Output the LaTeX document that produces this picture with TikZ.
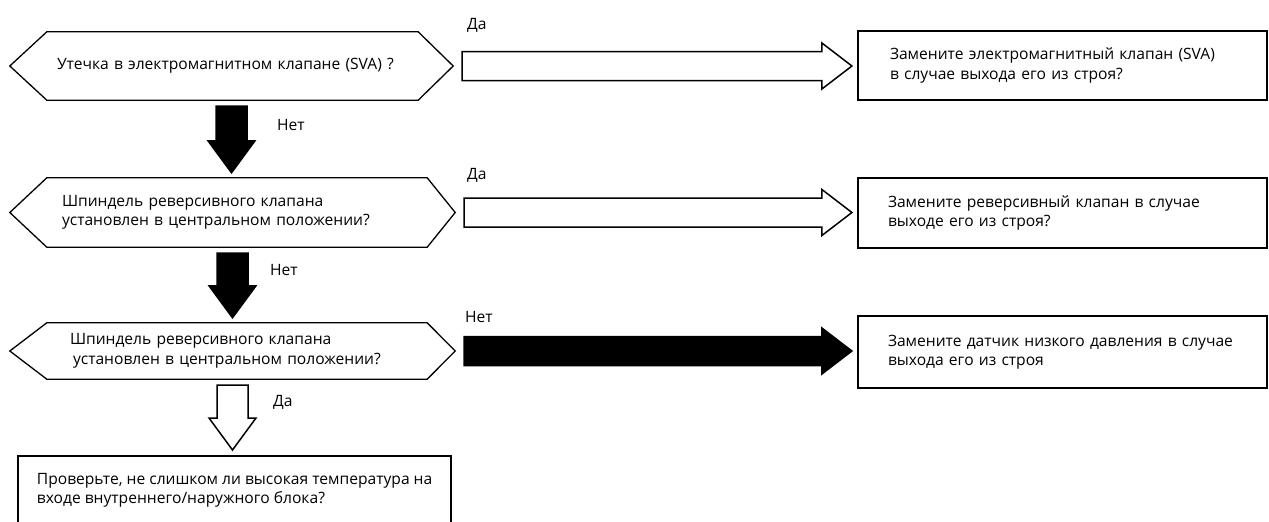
\documentclass[tikz,border=0pt]{standalone}
\usepackage{fontspec}
\setmainfont{Open Sans}
\usetikzlibrary{calc}
\tikzset{
  question/.style= {minimum height=68pt, inner sep=0pt, align=left},
  answer/.style= {draw, line width=2.2pt, minimum width=409pt, inner sep=0pt, align=left},
  lbl/.style= {anchor=west, inner sep=0pt},
  hexline/.style= {line width=1.3pt, line join=miter},
  blockarrow/.style= {draw, line width=1.5pt, line join=miter},
}

% hexagon round a question node: #1 node, #2 right chamfer
\newcommand{\hexa}[2]{%
  \draw[hexline] (#1.west) -- ([xshift=37pt]#1.north west) -- ([xshift=-#2pt]#1.north east)
    -- (#1.east) -- ([xshift=-#2pt]#1.south east) -- ([xshift=37pt]#1.south west) -- cycle;}
% wide arrow to the right: #1 fill, #2 from, #3 to
\newcommand{\rarrow}[3]{%
  \draw[blockarrow, fill=#1] let \p1=(#2.east), \p2=(#3.west) in
    ({\x1+9pt},{\y1+14.5pt}) -- ({\x2-35pt},{\y1+14.5pt}) -- ({\x2-35pt},{\y1+23pt})
    -- ({\x2-5pt},\y1) -- ({\x2-35pt},{\y1-23pt}) -- ({\x2-35pt},{\y1-14.5pt})
    -- ({\x1+9pt},{\y1-14.5pt}) -- cycle;}
% wide arrow down: #1 fill, #2 from, #3 to (x taken from #2)
\newcommand{\darrow}[3]{%
  \draw[blockarrow, fill=#1] let \p1=(#2.south), \p2=(#3.north) in
    ({\x1-15.5pt},{\y1-6pt}) -- ({\x1+15.5pt},{\y1-6pt}) -- ({\x1+15.5pt},{\y2+37pt})
    -- ({\x1+23.5pt},{\y2+37pt}) -- (\x1,{\y2+5pt}) -- ({\x1-23.5pt},{\y2+37pt})
    -- ({\x1-15.5pt},{\y2+37pt}) -- cycle;}

\begin{document}
\begin{tikzpicture}[x=1pt, y=-1pt, every node/.style={font=\fontsize{15.6}{19.5}\selectfont}]
  \useasboundingbox (0,0) rectangle (1269,522);
  \clip (0,0) rectangle (1269,522);

  % questions
  \node [question, minimum width=443pt, text width=349pt] (q1) at (231.5,66)
    {Утечка в электромагнитном клапане (SVA) ?};
  \node [question, minimum width=445pt, minimum height=69pt, text width=341pt] (q2) at (232.5,212.5)
    {Шпиндель реверсивного клапана\\установлен в центральном положении?};
  \node [question, minimum width=445pt, minimum height=56pt, text width=325pt] (q3) at (232.5,351)
    {Шпиндель реверсивного клапана\\\hspace*{3pt}установлен в центральном положении?};
  \hexa{q1}{35}
  \hexa{q2}{28}
  \hexa{q3}{28}

  % actions
  \node [answer, minimum height=69pt, text width=345pt] (a1) at (1062.5,65.5)
    {Замените электромагнитный клапан (SVA)\\в случае выхода его из строя?};
  \node [answer, minimum height=70pt, text width=349pt] (a2) at (1062.5,213)
    {Замените реверсивный клапан в случае\\выходе его из строя?};
  \node [answer, minimum height=72pt, text width=349pt] (a3) at (1062.5,352)
    {Замените датчик низкого давления в случае\\выхода его из строя};
  \node [answer, anchor=north west, minimum width=433pt, inner xsep=18pt, inner ysep=17pt] (c1) at (17,455)
    {Проверьте, не слишком ли высокая температура на\\входе внутреннего/наружного блока?};

  \rarrow{white}{q1}{a1}
  \rarrow{white}{q2}{a2}
  \rarrow{black}{q3}{a3}
  \darrow{black}{q1}{q2}
  \darrow{black}{q2}{q3}
  \darrow{white}{q3}{c1}

  \node [lbl] (yes1) at (467,25) {Да};
  \node [lbl] (no1) at (277,125) {Нет};
  \node [lbl] (yes2) at (467,175) {Да};
  \node [lbl] (no2) at (270,270) {Нет};
  \node [lbl] (no3) at (465,317) {Нет};
  \node [lbl] (yes3) at (273,402) {Да};
\end{tikzpicture}
\end{document}
